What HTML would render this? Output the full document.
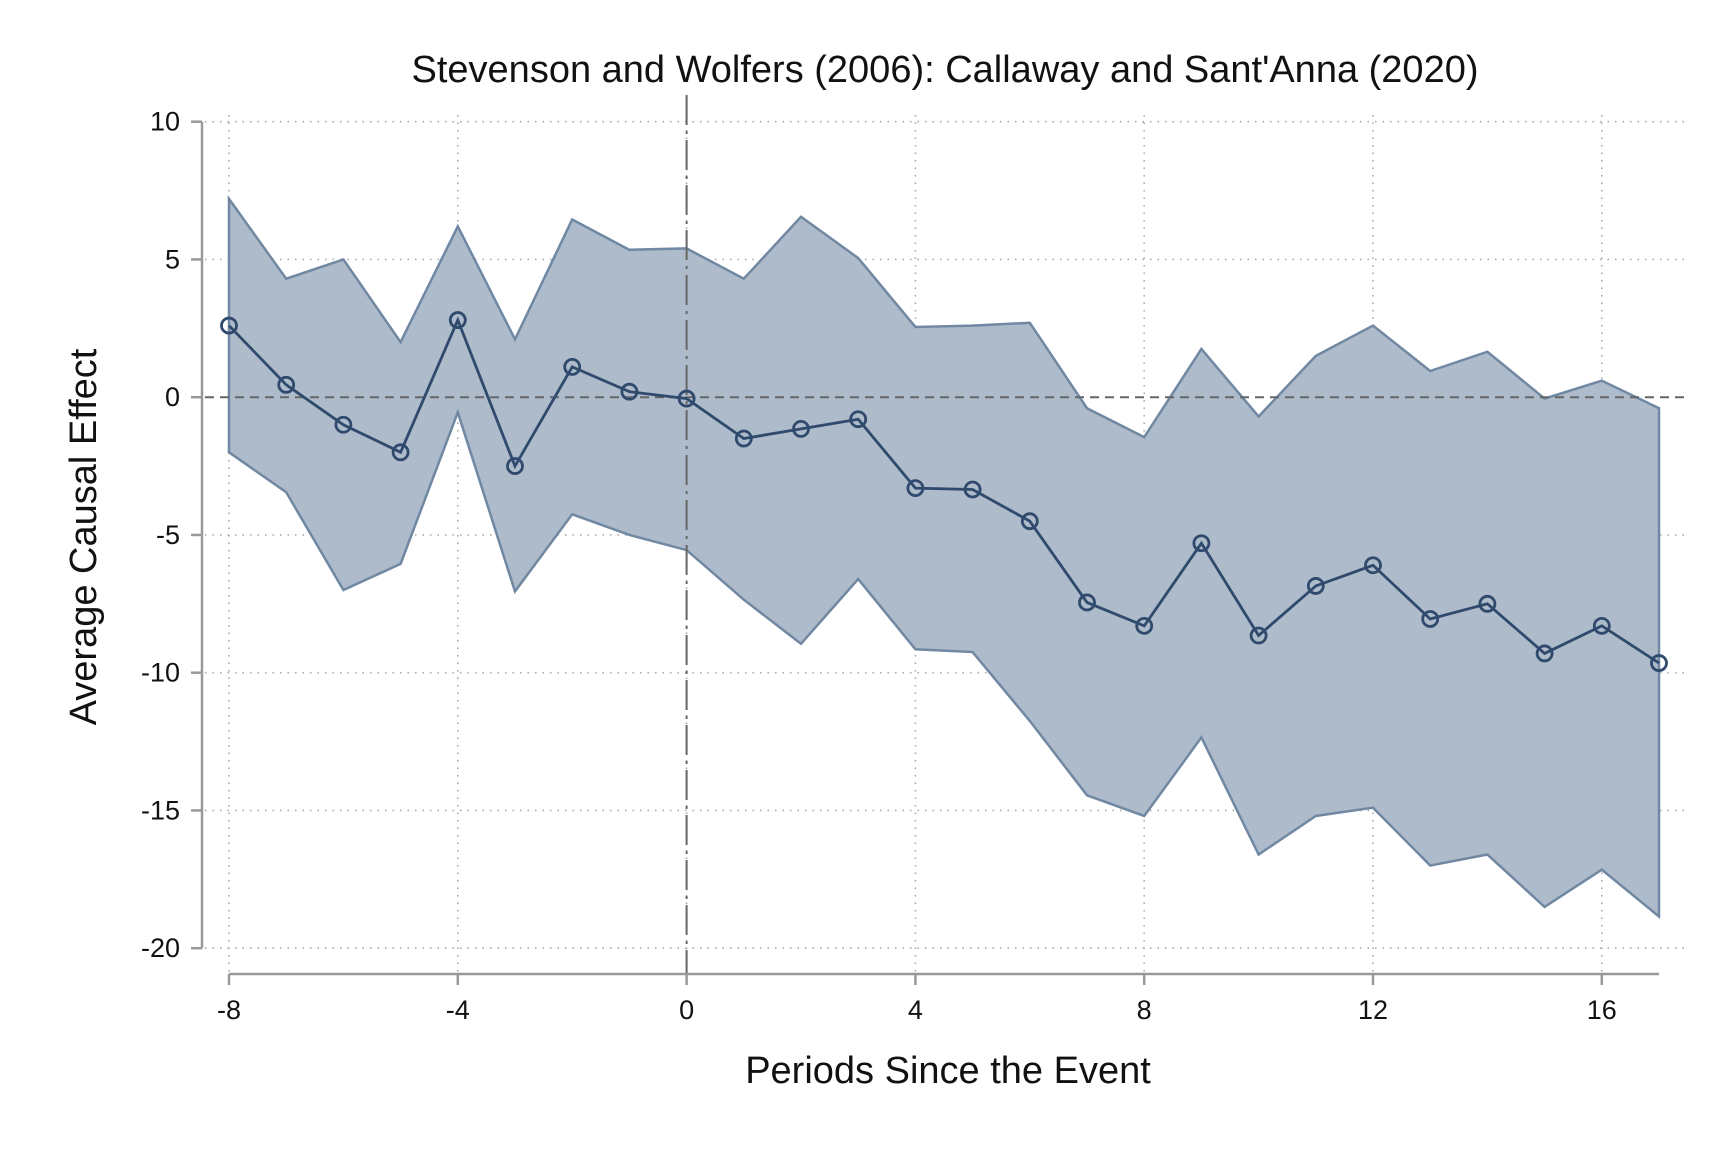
<!DOCTYPE html>
<html><head><meta charset="utf-8"><style>
body{margin:0;background:#fff;}
svg{display:block;font-family:"Liberation Sans",sans-serif;}
</style></head><body>
<svg id="chart" width="1726" height="1150"></svg>
<script>
const periods=[-8,-7,-6,-5,-4,-3,-2,-1,0,1,2,3,4,5,6,7,8,9,10,11,12,13,14,15,16,17];
const estimates=[2.6,0.45,-1.0,-2.0,2.8,-2.5,1.1,0.2,-0.05,-1.5,-1.15,-0.8,-3.3,-3.35,-4.5,-7.45,-8.3,-5.3,-8.65,-6.85,-6.1,-8.05,-7.5,-9.3,-8.3,-9.65];
const upperCI=[7.2,4.3,5.0,2.0,6.2,2.1,6.45,5.35,5.4,4.3,6.55,5.05,2.55,2.6,2.7,-0.4,-1.45,1.75,-0.7,1.5,2.6,0.95,1.65,-0.05,0.6,-0.4];
const lowerCI=[-2.0,-3.45,-7.0,-6.05,-0.55,-7.05,-4.25,-5.0,-5.55,-7.35,-8.95,-6.6,-9.15,-9.25,-11.75,-14.45,-15.2,-12.35,-16.6,-15.2,-14.9,-17.0,-16.6,-18.5,-17.15,-18.85];
const xTicks=[-8,-4,0,4,8,12,16];
const yTicks=[10,5,0,-5,-10,-15,-20];

const svg=document.getElementById('chart');
const NS='http://www.w3.org/2000/svg';
const X=v=>229+(v+8)*57.2;
const Y=v=>121.7+(10-v)*27.55;
function mk(tag,attrs,parent){const e=document.createElementNS(NS,tag);for(const k in attrs)e.setAttribute(k,attrs[k]);(parent||svg).appendChild(e);return e;}

yTicks.forEach(t=>{
  const g=mk('line',{x1:205,x2:1684,y1:Y(t),y2:Y(t),stroke:'#aaa','stroke-width':1.6,'stroke-dasharray':'1.5 6'});
  
  
});
xTicks.forEach(t=>{
  const g=mk('line',{x1:X(t),x2:X(t),y1:115,y2:972,stroke:'#aaa','stroke-width':1.6,'stroke-dasharray':'1.5 6'});
  
  
});

let d='M'+periods.map((p,i)=>X(p)+','+Y(upperCI[i])).join(' L');
d+=' L'+periods.slice().reverse().map((p,j)=>{const i=periods.length-1-j;return X(p)+','+Y(lowerCI[i]);}).join(' L')+' Z';
const band=mk('path',{d:d,fill:'#aebbca',stroke:'#7088a2','stroke-width':2.5});



const h0=mk('line',{x1:205,x2:1684,y1:Y(0),y2:Y(0),stroke:'#666','stroke-width':2,'stroke-dasharray':'9 6'});


const v0=mk('line',{x1:X(0),x2:X(0),y1:95,y2:974,stroke:'#666','stroke-width':2,'stroke-dasharray':'30 6 3 6'});



const line=mk('polyline',{points:periods.map((p,i)=>X(p)+','+Y(estimates[i])).join(' '),fill:'none',stroke:'#2f4a6d','stroke-width':2.8});


periods.forEach((p,i)=>{
  const c=mk('circle',{cx:X(p),cy:Y(estimates[i]),r:7.5,fill:'none',stroke:'#2f4a6d','stroke-width':2.8});
  
  
});

const ya=mk('line',{x1:202,x2:202,y1:Y(10),y2:Y(-20),stroke:'#999','stroke-width':2.5});


const xa=mk('line',{x1:X(-8),x2:X(17),y1:974,y2:974,stroke:'#999','stroke-width':2.5});



yTicks.forEach(t=>{
  const tk=mk('line',{x1:191,x2:202,y1:Y(t),y2:Y(t),stroke:'#999','stroke-width':2.5});
  
  
  const tx=mk('text',{x:180,y:Y(t)+9,'text-anchor':'end','font-size':27,fill:'#111'});
  tx.textContent=t;
  
  
});
xTicks.forEach(t=>{
  const tk=mk('line',{x1:X(t),x2:X(t),y1:974,y2:985,stroke:'#999','stroke-width':2.5});
  
  
  const tx=mk('text',{x:X(t),y:1019,'text-anchor':'middle','font-size':27,fill:'#111'});
  tx.textContent=t;
  
  
});

const title=mk('text',{x:945,y:82,'text-anchor':'middle','font-size':38,fill:'#111'});
title.textContent="Stevenson and Wolfers (2006): Callaway and Sant'Anna (2020)";


const xt=mk('text',{x:948,y:1083,'text-anchor':'middle','font-size':38,fill:'#111'});
xt.textContent='Periods Since the Event';


const yt=mk('text',{x:0,y:0,'text-anchor':'middle','font-size':38,fill:'#111',transform:'translate(96,537) rotate(-90)'});
yt.textContent='Average Causal Effect';


</script>
</body></html>
